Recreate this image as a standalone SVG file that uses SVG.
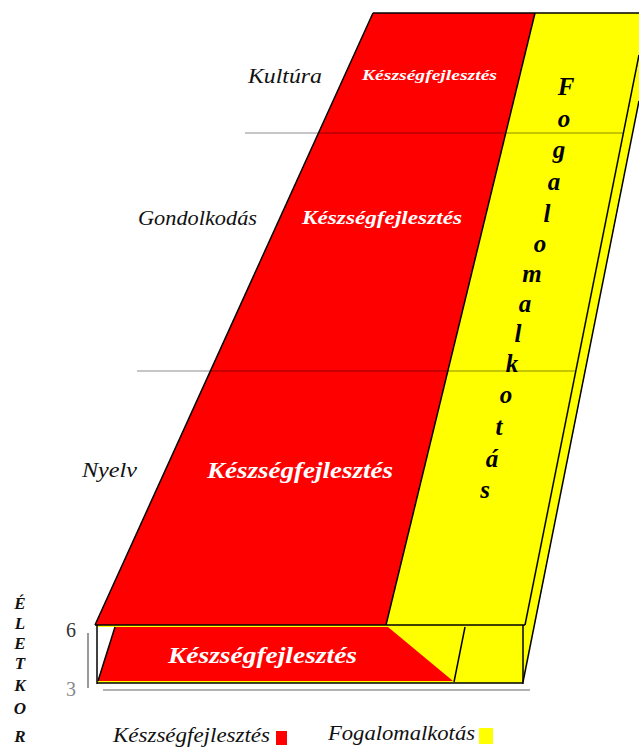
<svg xmlns="http://www.w3.org/2000/svg" width="639" height="749" viewBox="0 0 639 749">
<style>
.red{fill:#ff0000}
.yel{fill:#ffff00}
.edge{stroke:#000;fill:none;stroke-width:1.5}
.div{stroke:#000;stroke-opacity:0.45;stroke-width:1;fill:none}
.gray{stroke:#999;fill:none}
.script{font-family:"Liberation Serif","DejaVu Serif",serif;font-style:italic;fill:#111}
.wt{font-family:"Liberation Serif","DejaVu Serif",serif;font-style:italic;font-weight:bold;fill:#fff}
.col{font-family:"Liberation Serif","DejaVu Serif",serif;font-style:italic;font-weight:bold;fill:#000;font-size:25px;text-anchor:middle}
.age{font-family:"Liberation Serif","DejaVu Serif",serif;font-style:italic;font-weight:bold;fill:#111;font-size:17px;text-anchor:middle}
</style>
<rect width="639" height="749" fill="#fff"/>
<g id="slab">
<polygon class="yel" points="535,13 639,13 639,101 523,682 523,625 386,625"/>
<polygon class="red" points="373,13 535,13 386,625 95,625"/>
</g>
<g id="box">
<rect class="yel" x="97" y="625" width="426" height="58"/>
<polygon fill="#fff" points="97,627 115,627 98,681 97,681"/>
<polygon class="red" points="115,627 388,627 453,681 98,681"/>
<line class="edge" x1="115" y1="627" x2="98" y2="681" stroke-width="1"/>
<line class="edge" x1="465" y1="627" x2="454" y2="682" stroke-width="1.2"/>
</g>
<g id="connectors">
<line class="edge" x1="373" y1="13" x2="95" y2="625"/>
<line class="edge" x1="535" y1="13" x2="386" y2="625"/>
<line class="edge" x1="639" y1="55" x2="525" y2="625" stroke-width="1.2"/>
<line class="edge" x1="639" y1="101" x2="523" y2="682" stroke-width="1.2"/>
<line class="edge" x1="373" y1="13" x2="639" y2="13" stroke-width="2.5"/>
<line class="div" x1="245" y1="133" x2="623" y2="133"/>
<line class="div" x1="137" y1="371" x2="576" y2="371"/>
<line class="edge" x1="95" y1="625" x2="525" y2="625" stroke-width="3.5"/>
<line class="edge" x1="97" y1="683" x2="523" y2="683" stroke-width="3"/>
<line class="edge" x1="97" y1="625" x2="97" y2="684" stroke-width="2.5"/>
<line class="edge" x1="523" y1="625" x2="523" y2="684" stroke-width="1.5"/>
<line class="gray" x1="88" y1="633" x2="88" y2="688" stroke-width="2"/>
<line class="gray" x1="103" y1="690" x2="530" y2="690" stroke-width="1.5"/>
</g>
<g id="labels">
<text class="script" x="248" y="83" font-size="20" textLength="74" lengthAdjust="spacingAndGlyphs">Kultúra</text>
<text class="wt" x="362" y="80" font-size="15" textLength="135" lengthAdjust="spacingAndGlyphs">Készségfejlesztés</text>
<text class="script" x="138" y="225" font-size="22" textLength="119" lengthAdjust="spacingAndGlyphs">Gondolkodás</text>
<text class="wt" x="302" y="224" font-size="19" textLength="160" lengthAdjust="spacingAndGlyphs">Készségfejlesztés</text>
<text class="script" x="82" y="477" font-size="20" textLength="55" lengthAdjust="spacingAndGlyphs">Nyelv</text>
<text class="wt" x="207" y="478" font-size="23" textLength="186" lengthAdjust="spacingAndGlyphs">Készségfejlesztés</text>
<text class="wt" x="168" y="663" font-size="23" textLength="189" lengthAdjust="spacingAndGlyphs">Készségfejlesztés</text>
</g>
<g id="column">
<text class="col" x="566" y="95">F</text>
<text class="col" x="564" y="127">o</text>
<text class="col" x="559" y="158">g</text>
<text class="col" x="554" y="190">a</text>
<text class="col" x="547" y="222">l</text>
<text class="col" x="540" y="252">o</text>
<text class="col" x="532" y="282">m</text>
<text class="col" x="525" y="312">a</text>
<text class="col" x="518" y="342">l</text>
<text class="col" x="512" y="372">k</text>
<text class="col" x="506" y="403">o</text>
<text class="col" x="499" y="435">t</text>
<text class="col" x="492" y="467">á</text>
<text class="col" x="485" y="498">s</text>
</g>
<g id="axis">
<text class="age" x="20" y="609">É</text>
<text class="age" x="20" y="629">L</text>
<text class="age" x="20" y="649">E</text>
<text class="age" x="20" y="669">T</text>
<text class="age" x="20" y="691">K</text>
<text class="age" x="20" y="714">O</text>
<text class="age" x="20" y="742">R</text>
<text x="71" y="637" font-family="Liberation Serif, serif" font-size="20" fill="#333" text-anchor="middle">6</text>
<text x="71" y="696" font-family="Liberation Serif, serif" font-size="20" fill="#888" text-anchor="middle">3</text>
</g>
<g id="legend">
<text class="script" x="113" y="742" font-size="20" textLength="157" lengthAdjust="spacingAndGlyphs">Készségfejlesztés</text>
<rect class="red" x="276" y="731" width="11" height="14"/>
<text class="script" x="328" y="740" font-size="20" textLength="147" lengthAdjust="spacingAndGlyphs">Fogalomalkotás</text>
<rect class="yel" x="479" y="728" width="14" height="16"/>
</g>
</svg>
